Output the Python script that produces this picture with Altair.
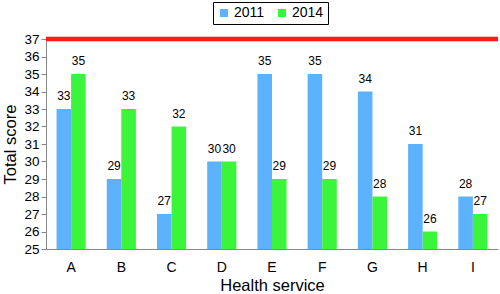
import altair as alt
import pandas as pd

services = ["A", "B", "C", "D", "E", "F", "G", "H", "I"]
scores_2011 = [33, 29, 27, 30, 35, 35, 34, 31, 28]
scores_2014 = [35, 33, 32, 30, 29, 29, 28, 26, 27]
years = ["2011", "2014"]
colors = ["#5cb2fd", "#3af53a"]
target = 37
y_ticks = list(range(25, 38))

rows = []
for s, a, b in zip(services, scores_2011, scores_2014):
    rows.append({"service": s, "year": "2011", "score": a})
    rows.append({"service": s, "year": "2014", "score": b})
df = pd.DataFrame(rows)

FONT = "Liberation Sans"

x_axis = alt.Axis(
    labelAngle=0, ticks=False, tickSize=0, labelPadding=11,
    labelFontSize=14, titleFontSize=16.5, titleFontWeight="normal",
    titlePadding=3,
    domainColor="#888888", labelColor="black", titleColor="black",
)
y_axis = alt.Axis(
    values=y_ticks, tickCount=30, format="d", grid=False, tickSize=5,
    labelPadding=2, labelOverlap=False,
    labelFontSize=13.5, titleFontSize=16.5, titleFontWeight="normal",
    titlePadding=5,
    domainColor="#888888", tickColor="#888888",
    labelColor="black", titleColor="black",
)
x_scale = alt.Scale(paddingInner=0.42, paddingOuter=0.21)
y_scale = alt.Scale(domain=[25, 37], zero=False, nice=False)

base = alt.Chart(df)

bars = base.mark_bar().encode(
    x=alt.X("service:N", sort=services, title="Health service",
            scale=x_scale, axis=x_axis),
    xOffset=alt.XOffset("year:N", sort=years),
    y=alt.Y("score:Q", scale=y_scale, title="Total score", axis=y_axis),
    y2=alt.datum(25),
    color=alt.Color(
        "year:N",
        scale=alt.Scale(domain=years, range=colors),
        legend=alt.Legend(
            title=None, orient="none", direction="horizontal",
            legendX=167, legendY=-37,
            strokeColor="black", padding=4,
            symbolType="square", symbolSize=64, symbolStrokeWidth=0,
            labelFontSize=14, labelOffset=3, columnPadding=10,
            labelColor="black",
        ),
    ),
)

labels = base.mark_text(
    baseline="alphabetic", dy=-9, fontSize=12, color="black", font=FONT
).encode(
    x=alt.X("service:N", sort=services, title="Health service",
            scale=x_scale, axis=x_axis),
    xOffset=alt.XOffset("year:N", sort=years),
    y=alt.Y("score:Q", scale=y_scale, title="Total score", axis=y_axis),
    text="score:Q",
)

rule = alt.Chart(pd.DataFrame({"t": [target]})).mark_rule(
    color="#ff1a1a", strokeWidth=4.5
).encode(y=alt.Y("t:Q", scale=y_scale, title="Total score", axis=y_axis))

chart = (
    alt.layer(bars, labels, rule)
    .properties(
        width=452, height=210,
        autosize=alt.AutoSizeParams(type="none"),
        padding={"left": 46, "top": 39, "right": 2, "bottom": 45},
    )
    .configure(font=FONT)
    .configure_view(stroke=None)
)

chart.save("out.html", embed_options={"renderer": "svg", "actions": False})
